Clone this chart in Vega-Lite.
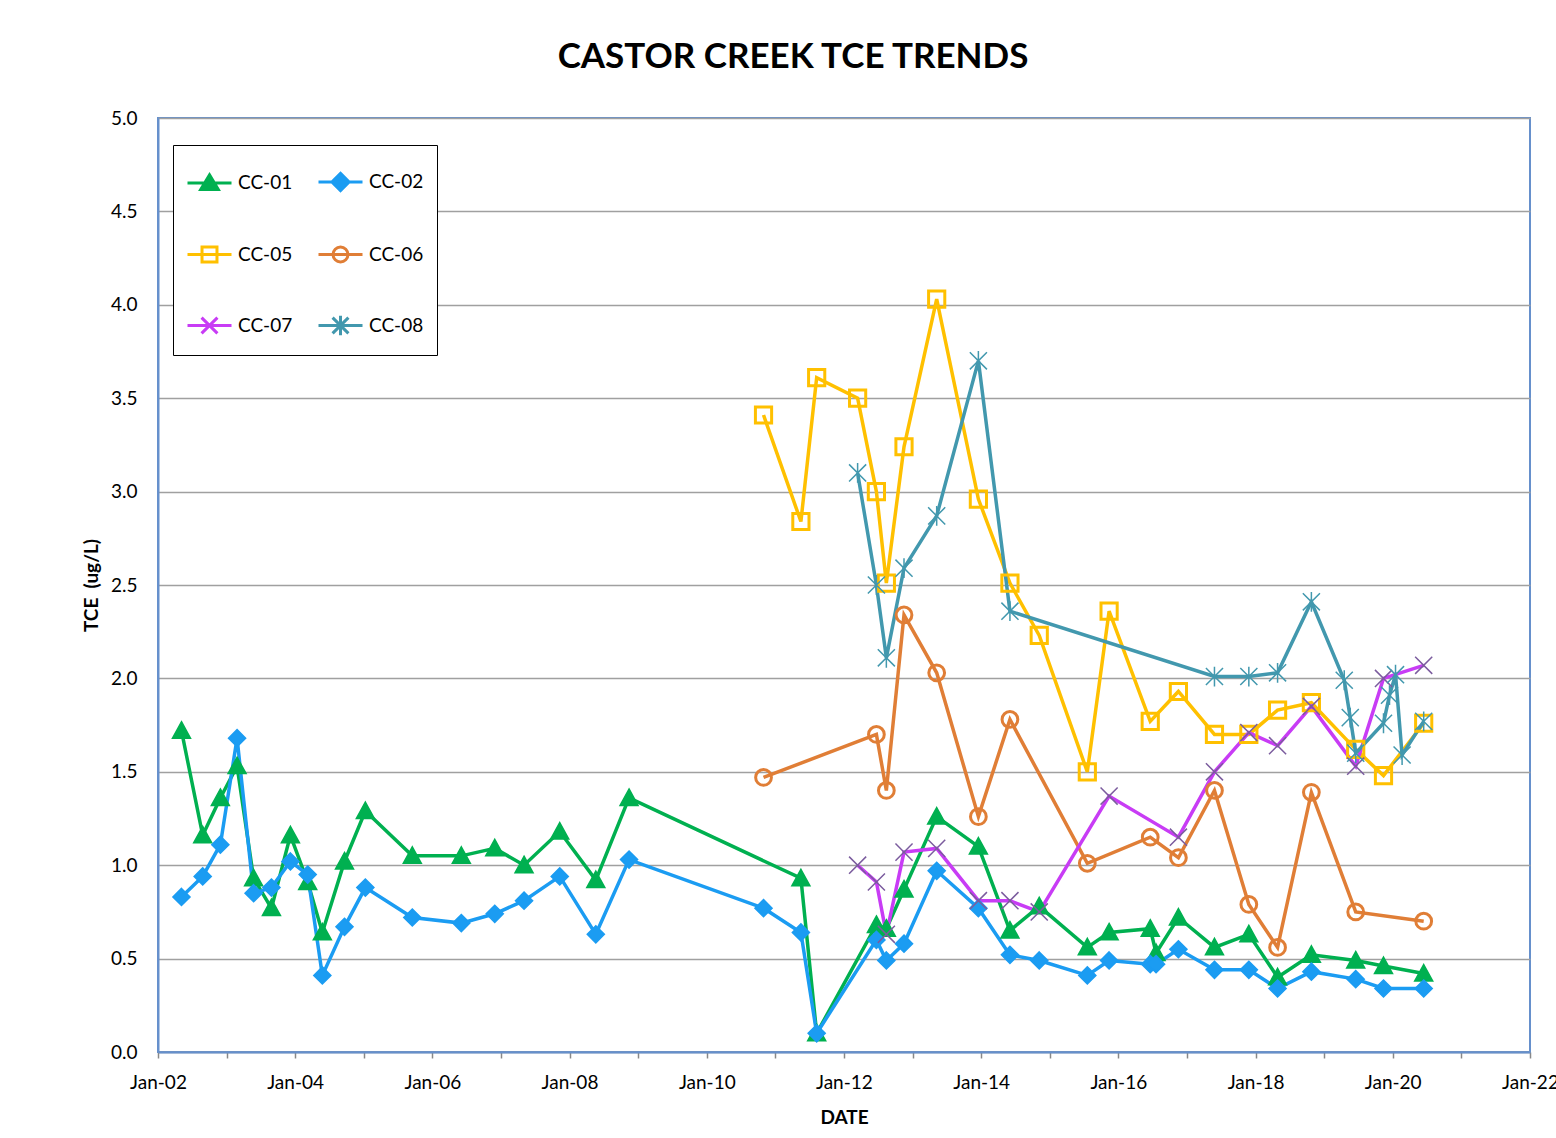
{
  "$schema": "https://vega.github.io/schema/vega-lite/v6.json",
  "width": 1372,
  "height": 934,
  "autosize": "none",
  "padding": {"left": 158, "top": 118, "right": 26, "bottom": 86},
  "background": "white",
  "title": {
    "text": "CASTOR CREEK TCE TRENDS",
    "font": "Lato",
    "fontSize": 35,
    "fontWeight": "bold",
    "color": "black",
    "anchor": "middle",
    "frame": "group",
    "baseline": "alphabetic",
    "offset": 6,
    "dx": -51
  },
  "config": {
    "view": {"stroke": "#6690CC", "strokeWidth": 2},
    "font": "Lato"
  },
  "data": {
    "values": [
      {"series": "CC-01", "date": "2002-05-06", "value": 1.72},
      {"series": "CC-01", "date": "2002-08-27", "value": 1.16},
      {"series": "CC-01", "date": "2002-11-29", "value": 1.36},
      {"series": "CC-01", "date": "2003-02-26", "value": 1.53},
      {"series": "CC-01", "date": "2003-05-25", "value": 0.93},
      {"series": "CC-01", "date": "2003-08-28", "value": 0.77},
      {"series": "CC-01", "date": "2003-12-07", "value": 1.16},
      {"series": "CC-01", "date": "2004-03-08", "value": 0.91},
      {"series": "CC-01", "date": "2004-05-25", "value": 0.64},
      {"series": "CC-01", "date": "2004-09-20", "value": 1.02},
      {"series": "CC-01", "date": "2005-01-09", "value": 1.29},
      {"series": "CC-01", "date": "2005-09-16", "value": 1.05},
      {"series": "CC-01", "date": "2006-06-04", "value": 1.05},
      {"series": "CC-01", "date": "2006-11-29", "value": 1.09},
      {"series": "CC-01", "date": "2007-05-04", "value": 1.00},
      {"series": "CC-01", "date": "2007-11-10", "value": 1.18},
      {"series": "CC-01", "date": "2008-05-20", "value": 0.92},
      {"series": "CC-01", "date": "2008-11-13", "value": 1.36},
      {"series": "CC-01", "date": "2011-05-17", "value": 0.93},
      {"series": "CC-01", "date": "2011-08-09", "value": 0.10},
      {"series": "CC-01", "date": "2012-06-22", "value": 0.68},
      {"series": "CC-01", "date": "2012-08-14", "value": 0.66},
      {"series": "CC-01", "date": "2012-11-16", "value": 0.87},
      {"series": "CC-01", "date": "2013-05-09", "value": 1.26},
      {"series": "CC-01", "date": "2013-12-17", "value": 1.10},
      {"series": "CC-01", "date": "2014-06-03", "value": 0.65},
      {"series": "CC-01", "date": "2014-11-06", "value": 0.78},
      {"series": "CC-01", "date": "2015-07-20", "value": 0.56},
      {"series": "CC-01", "date": "2015-11-13", "value": 0.64},
      {"series": "CC-01", "date": "2016-06-19", "value": 0.66},
      {"series": "CC-01", "date": "2016-07-20", "value": 0.53},
      {"series": "CC-01", "date": "2016-11-16", "value": 0.72},
      {"series": "CC-01", "date": "2017-05-27", "value": 0.56},
      {"series": "CC-01", "date": "2017-11-26", "value": 0.63},
      {"series": "CC-01", "date": "2018-04-28", "value": 0.40},
      {"series": "CC-01", "date": "2018-10-25", "value": 0.52},
      {"series": "CC-01", "date": "2019-06-18", "value": 0.49},
      {"series": "CC-01", "date": "2019-11-13", "value": 0.46},
      {"series": "CC-01", "date": "2020-06-14", "value": 0.42},

      {"series": "CC-02", "date": "2002-05-06", "value": 0.83},
      {"series": "CC-02", "date": "2002-08-27", "value": 0.94},
      {"series": "CC-02", "date": "2002-11-29", "value": 1.11},
      {"series": "CC-02", "date": "2003-02-26", "value": 1.68},
      {"series": "CC-02", "date": "2003-05-25", "value": 0.85},
      {"series": "CC-02", "date": "2003-08-28", "value": 0.88},
      {"series": "CC-02", "date": "2003-12-07", "value": 1.02},
      {"series": "CC-02", "date": "2004-03-08", "value": 0.95},
      {"series": "CC-02", "date": "2004-05-25", "value": 0.41},
      {"series": "CC-02", "date": "2004-09-20", "value": 0.67},
      {"series": "CC-02", "date": "2005-01-09", "value": 0.88},
      {"series": "CC-02", "date": "2005-09-16", "value": 0.72},
      {"series": "CC-02", "date": "2006-06-04", "value": 0.69},
      {"series": "CC-02", "date": "2006-11-29", "value": 0.74},
      {"series": "CC-02", "date": "2007-05-04", "value": 0.81},
      {"series": "CC-02", "date": "2007-11-10", "value": 0.94},
      {"series": "CC-02", "date": "2008-05-20", "value": 0.63},
      {"series": "CC-02", "date": "2008-11-13", "value": 1.03},
      {"series": "CC-02", "date": "2010-10-30", "value": 0.77},
      {"series": "CC-02", "date": "2011-05-17", "value": 0.64},
      {"series": "CC-02", "date": "2011-08-09", "value": 0.10},
      {"series": "CC-02", "date": "2012-06-22", "value": 0.60},
      {"series": "CC-02", "date": "2012-08-14", "value": 0.49},
      {"series": "CC-02", "date": "2012-11-16", "value": 0.58},
      {"series": "CC-02", "date": "2013-05-09", "value": 0.97},
      {"series": "CC-02", "date": "2013-12-17", "value": 0.77},
      {"series": "CC-02", "date": "2014-06-03", "value": 0.52},
      {"series": "CC-02", "date": "2014-11-06", "value": 0.49},
      {"series": "CC-02", "date": "2015-07-20", "value": 0.41},
      {"series": "CC-02", "date": "2015-11-13", "value": 0.49},
      {"series": "CC-02", "date": "2016-06-19", "value": 0.47},
      {"series": "CC-02", "date": "2016-07-20", "value": 0.47},
      {"series": "CC-02", "date": "2016-11-16", "value": 0.55},
      {"series": "CC-02", "date": "2017-05-27", "value": 0.44},
      {"series": "CC-02", "date": "2017-11-26", "value": 0.44},
      {"series": "CC-02", "date": "2018-04-28", "value": 0.34},
      {"series": "CC-02", "date": "2018-10-25", "value": 0.43},
      {"series": "CC-02", "date": "2019-06-18", "value": 0.39},
      {"series": "CC-02", "date": "2019-11-13", "value": 0.34},
      {"series": "CC-02", "date": "2020-06-14", "value": 0.34},

      {"series": "CC-05", "date": "2010-10-30", "value": 3.41},
      {"series": "CC-05", "date": "2011-05-17", "value": 2.84},
      {"series": "CC-05", "date": "2011-08-09", "value": 3.61},
      {"series": "CC-05", "date": "2012-03-14", "value": 3.50},
      {"series": "CC-05", "date": "2012-06-22", "value": 3.00},
      {"series": "CC-05", "date": "2012-08-14", "value": 2.51},
      {"series": "CC-05", "date": "2012-11-16", "value": 3.24},
      {"series": "CC-05", "date": "2013-05-09", "value": 4.03},
      {"series": "CC-05", "date": "2013-12-17", "value": 2.96},
      {"series": "CC-05", "date": "2014-06-03", "value": 2.51},
      {"series": "CC-05", "date": "2014-11-06", "value": 2.23},
      {"series": "CC-05", "date": "2015-07-20", "value": 1.50},
      {"series": "CC-05", "date": "2015-11-13", "value": 2.36},
      {"series": "CC-05", "date": "2016-06-19", "value": 1.77},
      {"series": "CC-05", "date": "2016-11-16", "value": 1.93},
      {"series": "CC-05", "date": "2017-05-27", "value": 1.70},
      {"series": "CC-05", "date": "2017-11-26", "value": 1.70},
      {"series": "CC-05", "date": "2018-04-28", "value": 1.83},
      {"series": "CC-05", "date": "2018-10-25", "value": 1.87},
      {"series": "CC-05", "date": "2019-06-18", "value": 1.62},
      {"series": "CC-05", "date": "2019-11-13", "value": 1.48},
      {"series": "CC-05", "date": "2020-06-14", "value": 1.76},

      {"series": "CC-06", "date": "2010-10-30", "value": 1.47},
      {"series": "CC-06", "date": "2012-06-22", "value": 1.70},
      {"series": "CC-06", "date": "2012-08-14", "value": 1.40},
      {"series": "CC-06", "date": "2012-11-16", "value": 2.34},
      {"series": "CC-06", "date": "2013-05-09", "value": 2.03},
      {"series": "CC-06", "date": "2013-12-17", "value": 1.26},
      {"series": "CC-06", "date": "2014-06-03", "value": 1.78},
      {"series": "CC-06", "date": "2015-07-20", "value": 1.01},
      {"series": "CC-06", "date": "2016-06-19", "value": 1.15},
      {"series": "CC-06", "date": "2016-11-16", "value": 1.04},
      {"series": "CC-06", "date": "2017-05-27", "value": 1.40},
      {"series": "CC-06", "date": "2017-11-26", "value": 0.79},
      {"series": "CC-06", "date": "2018-04-28", "value": 0.56},
      {"series": "CC-06", "date": "2018-10-25", "value": 1.39},
      {"series": "CC-06", "date": "2019-06-18", "value": 0.75},
      {"series": "CC-06", "date": "2020-06-14", "value": 0.70},

      {"series": "CC-07", "date": "2012-03-14", "value": 1.00},
      {"series": "CC-07", "date": "2012-06-22", "value": 0.91},
      {"series": "CC-07", "date": "2012-08-14", "value": 0.63},
      {"series": "CC-07", "date": "2012-11-16", "value": 1.07},
      {"series": "CC-07", "date": "2013-05-09", "value": 1.09},
      {"series": "CC-07", "date": "2013-12-17", "value": 0.81},
      {"series": "CC-07", "date": "2014-06-03", "value": 0.81},
      {"series": "CC-07", "date": "2014-11-06", "value": 0.75},
      {"series": "CC-07", "date": "2015-11-13", "value": 1.37},
      {"series": "CC-07", "date": "2016-11-16", "value": 1.15},
      {"series": "CC-07", "date": "2017-05-27", "value": 1.50},
      {"series": "CC-07", "date": "2017-11-26", "value": 1.71},
      {"series": "CC-07", "date": "2018-04-28", "value": 1.64},
      {"series": "CC-07", "date": "2018-10-25", "value": 1.85},
      {"series": "CC-07", "date": "2019-06-18", "value": 1.53},
      {"series": "CC-07", "date": "2019-11-13", "value": 2.00},
      {"series": "CC-07", "date": "2020-06-14", "value": 2.07},

      {"series": "CC-08", "date": "2012-03-14", "value": 3.10},
      {"series": "CC-08", "date": "2012-06-22", "value": 2.50},
      {"series": "CC-08", "date": "2012-08-14", "value": 2.11},
      {"series": "CC-08", "date": "2012-11-16", "value": 2.59},
      {"series": "CC-08", "date": "2013-05-09", "value": 2.87},
      {"series": "CC-08", "date": "2013-12-17", "value": 3.70},
      {"series": "CC-08", "date": "2014-06-03", "value": 2.36},
      {"series": "CC-08", "date": "2017-05-27", "value": 2.01},
      {"series": "CC-08", "date": "2017-11-26", "value": 2.01},
      {"series": "CC-08", "date": "2018-04-28", "value": 2.03},
      {"series": "CC-08", "date": "2018-10-25", "value": 2.41},
      {"series": "CC-08", "date": "2019-04-18", "value": 1.99},
      {"series": "CC-08", "date": "2019-05-20", "value": 1.79},
      {"series": "CC-08", "date": "2019-06-18", "value": 1.60},
      {"series": "CC-08", "date": "2019-11-13", "value": 1.76},
      {"series": "CC-08", "date": "2019-12-15", "value": 1.91},
      {"series": "CC-08", "date": "2020-01-16", "value": 2.02},
      {"series": "CC-08", "date": "2020-02-20", "value": 1.59},
      {"series": "CC-08", "date": "2020-06-14", "value": 1.77}
    ]
  },
  "encoding": {
    "x": {
      "field": "date",
      "type": "temporal",
      "scale": {
        "type": "utc",
        "nice": false,
        "domain": [
          {"year": 2002, "month": 1, "date": 1, "utc": true},
          {"year": 2022, "month": 1, "date": 1, "utc": true}
        ]
      },
      "axis": {
        "title": "DATE",
        "titleFont": "Lato",
        "titleFontSize": 19,
        "titleFontWeight": "bold",
        "titleColor": "black",
        "titlePadding": 16,
        "tickCount": {"interval": "year", "step": 1},
        "labelExpr": "utcyear(datum.value) % 2 === 0 ? utcFormat(datum.value, '%b-%y') : ''",
        "labelFont": "Lato",
        "labelFontSize": 19,
        "labelColor": "black",
        "labelPadding": 15,
        "labelOverlap": false,
        "labelFlush": false,
        "tickSize": 6,
        "tickColor": "#888888",
        "tickWidth": 1.5,
        "domainColor": "#6690CC",
        "domainWidth": 2,
        "grid": false
      }
    },
    "y": {
      "field": "value",
      "type": "quantitative",
      "scale": {"domain": [0, 5], "nice": false},
      "axis": {
        "title": "TCE\u00a0\u00a0(ug/L)",
        "titleFont": "Lato",
        "titleFontSize": 19,
        "titleFontWeight": "bold",
        "titleColor": "black",
        "titlePadding": 9,
        "values": [0, 0.5, 1, 1.5, 2, 2.5, 3, 3.5, 4, 4.5, 5],
        "format": ".1f",
        "labelFont": "Lato",
        "labelFontSize": 19,
        "labelColor": "black",
        "labelPadding": 21,
        "ticks": false,
        "domainColor": "#6690CC",
        "domainWidth": 2,
        "grid": true,
        "gridColor": "#A0A0A0",
        "gridWidth": 1.5
      }
    }
  },
  "layer": [
    {
      "mark": {"type": "line", "strokeWidth": 3.5},
      "encoding": {
        "color": {
          "field": "series",
          "type": "nominal",
          "scale": {
            "domain": ["CC-01", "CC-02", "CC-05", "CC-06", "CC-07", "CC-08"],
            "range": ["#00B050", "#1B9CF2", "#FFC000", "#E07E36", "#C83CF5", "#4298AE"]
          },
          "legend": null
        }
      }
    },
    {
      "mark": {"type": "point", "size": 2025, "opacity": 1},
      "encoding": {
        "shape": {
          "field": "series",
          "type": "nominal",
          "scale": {
            "domain": ["CC-01", "CC-02", "CC-05", "CC-06", "CC-07", "CC-08"],
            "range": [
              "M0,-0.4L0.4,0.33H-0.4Z",
              "M0,-0.38L0.38,0L0,0.38L-0.38,0Z",
              "M-0.36,-0.36H0.36V0.36H-0.36Z",
              "M-0.35,0A0.35,0.35,0,1,0,0.35,0A0.35,0.35,0,1,0,-0.35,0Z",
              "M-0.38,-0.38L0.38,0.38M-0.38,0.38L0.38,-0.38",
              "M-0.38,-0.38L0.38,0.38M-0.38,0.38L0.38,-0.38M0,-0.44V0.44"
            ]
          },
          "legend": null
        },
        "fill": {
          "field": "series",
          "type": "nominal",
          "scale": {
            "domain": ["CC-01", "CC-02", "CC-05", "CC-06", "CC-07", "CC-08"],
            "range": ["#00B050", "#1B9CF2", "transparent", "transparent", "transparent", "transparent"]
          },
          "legend": null
        },
        "stroke": {
          "field": "series",
          "type": "nominal",
          "scale": {
            "domain": ["CC-01", "CC-02", "CC-05", "CC-06", "CC-07", "CC-08"],
            "range": ["#00B050", "#1B9CF2", "#FFC000", "#E07E36", "#7B5C9E", "#4298AE"]
          },
          "legend": null
        },
        "strokeWidth": {
          "condition": {"test": "indexof(['CC-05','CC-06'], datum.series) >= 0", "value": 3},
          "value": 1.5
        }
      }
    },
    {
      "transform": [{"filter": "datum.value < 0"}],
      "mark": {"type": "point", "size": 1936, "opacity": 1},
      "encoding": {
        "shape": {
          "field": "series",
          "type": "nominal",
          "scale": {
            "domain": ["CC-01", "CC-02", "CC-05", "CC-06", "CC-07", "CC-08"],
            "range": [
              "M-1,0H1M0,-0.37L0.4,0.3H-0.4Z",
              "M-1,0H1M0,-0.39L0.39,0L0,0.39L-0.39,0Z",
              "M-1,0H1M-0.34,-0.34H0.34V0.34H-0.34Z",
              "M-1,0H1M-0.34,0A0.34,0.34,0,1,0,0.34,0A0.34,0.34,0,1,0,-0.34,0Z",
              "M-1,0H1M-0.36,-0.36L0.36,0.36M-0.36,0.36L0.36,-0.36",
              "M-1,0H1M-0.36,-0.36L0.36,0.36M-0.36,0.36L0.36,-0.36M0,-0.44V0.44"
            ]
          },
          "legend": {
            "title": null,
            "orient": "none",
            "legendX": 15,
            "legendY": 27,
            "direction": "horizontal",
            "columns": 2,
            "padding": 13,
            "rowPadding": 34,
            "columnPadding": 19,
            "strokeColor": "black",
            "fillColor": "white",
            "symbolSize": 1936,
            "symbolStrokeWidth": 3,
            "labelFont": "Lato",
            "labelFontSize": 19,
            "labelColor": "black",
            "labelOffset": 5,
            "labelBaseline": "middle"
          }
        },
        "fill": {
          "field": "series",
          "type": "nominal",
          "scale": {
            "domain": ["CC-01", "CC-02", "CC-05", "CC-06", "CC-07", "CC-08"],
            "range": ["#00B050", "#1B9CF2", "transparent", "transparent", "transparent", "transparent"]
          }
        },
        "stroke": {
          "field": "series",
          "type": "nominal",
          "scale": {
            "domain": ["CC-01", "CC-02", "CC-05", "CC-06", "CC-07", "CC-08"],
            "range": ["#00B050", "#1B9CF2", "#FFC000", "#E07E36", "#C83CF5", "#4298AE"]
          }
        }
      }
    }
  ],
  "resolve": {
    "scale": {"shape": "independent", "fill": "independent", "stroke": "independent"},
    "legend": {"shape": "independent", "fill": "independent", "stroke": "independent"}
  }
}
